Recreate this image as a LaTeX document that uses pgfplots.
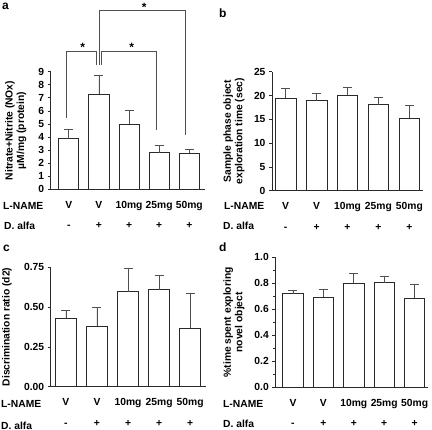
\documentclass[border=0pt]{standalone}
\usepackage{fontspec}
\setmainfont{Liberation Sans}
\usepackage{pgfplots}
\pgfplotsset{compat=1.18}
\definecolor{ln}{HTML}{2A2A2A}
\definecolor{eb}{HTML}{505050}
\pgfplotsset{
  panel/.style={
    scale only axis, anchor=south west, clip=false,
    axis x line*=bottom, axis y line*=left,
    axis line style={ln, line width=0.8pt},
    ybar, bar width=0.67, ymin=0,
    tick align=outside, major tick length=3pt, minor tick length=2pt,
    every tick/.style={ln, line width=0.7pt},
    xtick={0,1,2,3,4}, xticklabels={V,V,10mg,25mg,50mg},
    xtick style={draw=none},
    xticklabel style={anchor=base, yshift=-16pt, font=\fontsize{10.3}{12}\bfseries},
    yticklabel style={font=\fontsize{10.3}{12}\bfseries},
    extra x ticks={0,1,2,3,4},
    extra x tick labels={-,+,+,+,+},
    extra x tick style={xtick style={draw=none}, xticklabel style={yshift=-20.5pt}},
    /pgf/number format/assume math mode=true,
    ylabel style={font=\fontsize{10.3}{11.5}\bfseries, align=center, anchor=center},
  },
  barstyle/.style={fill=white, draw=ln, line width=0.8pt,
    error bars/.cd, y dir=plus, y explicit,
    error bar style={eb, line width=0.8pt},
    error mark options={rotate=90, eb, mark size=4.5pt, line width=0.8pt}},
}
\begin{document}
\begin{tikzpicture}
\useasboundingbox (0pt,0pt) rectangle (432pt,430pt);
% ---------- panel a ----------
\begin{axis}[panel, at={(50.7pt,240.7pt)}, width=154.3pt, height=117.6pt,
  xmin=-0.6, xmax=4.52, ymax=9, ytick={0,1,...,9},
  ylabel={Nitrate+Nitrite (NOx)\\µM/mg (protein)},
  ylabel style={at={(axis description cs:-0.227,0.5)}}]
\addplot[barstyle] coordinates {
  (0,3.88) +- (0,0.68)
  (1,7.30) +- (0,1.40)
  (2,4.97) +- (0,1.03)
  (3,2.80) +- (0,0.58)
  (4,2.77) +- (0,0.28)
};
\draw[eb, line width=0.8pt] (axis cs:1.0,9.51) -- (axis cs:1.0,13.72) -- (axis cs:3.86,13.72) -- (axis cs:3.86,4.18);
\draw[eb, line width=0.8pt] (axis cs:-0.066,5.49) -- (axis cs:-0.066,10.58) -- (axis cs:0.93,10.58) -- (axis cs:0.93,9.51);
\draw[eb, line width=0.8pt] (axis cs:1.09,9.51) -- (axis cs:1.09,10.58) -- (axis cs:2.92,10.58) -- (axis cs:2.92,4.51);
\node[font=\large\bfseries] at (axis cs:0.46,10.85) {*};
\node[font=\large\bfseries] at (axis cs:2.09,10.85) {*};
\node[font=\large\bfseries] at (axis cs:2.5,13.95) {*};
\end{axis}
% ---------- panel b ----------
\begin{axis}[panel, at={(272pt,239.3pt)}, width=151pt, height=119pt,
  xmin=-0.44, xmax=4.44, ymax=25, ytick={0,5,...,25},
  ylabel={Sample phase object\\exploration time (sec)},
  ylabel style={at={(axis description cs:-0.252,0.5)}}]
\addplot[barstyle] coordinates {
  (0,19.4) +- (0,2.0)
  (1,18.9) +- (0,1.6)
  (2,20.1) +- (0,1.7)
  (3,18.1) +- (0,1.5)
  (4,15.2) +- (0,2.8)
};
\end{axis}
% ---------- panel c ----------
\begin{axis}[panel, at={(50.7pt,43.3pt)}, width=155pt, height=119.4pt,
  xmin=-0.49, xmax=4.5, ymax=0.75, ytick={0,0.25,0.5,0.75},
  yticklabel style={/pgf/number format/.cd, fixed, fixed zerofill, precision=2},
  ylabel={Discrimination ratio (d2)},
  ylabel style={at={(axis description cs:-0.282,0.5)}}]
\addplot[barstyle] coordinates {
  (0,0.432) +- (0,0.046)
  (1,0.381) +- (0,0.120)
  (2,0.596) +- (0,0.146)
  (3,0.609) +- (0,0.092)
  (4,0.369) +- (0,0.219)
};
\end{axis}
% ---------- panel d ----------
\begin{axis}[panel, at={(275.3pt,42.7pt)}, width=152.4pt, height=130pt,
  xmin=-0.58, xmax=4.43, ymax=1, ytick={0,0.2,0.4,0.6,0.8,1}, minor y tick num=1,
  yticklabel style={/pgf/number format/.cd, fixed, fixed zerofill, precision=1},
  ylabel={\%time spent exploring\\novel object},
  ylabel style={at={(axis description cs:-0.271,0.5)}}]
\addplot[barstyle] coordinates {
  (0,0.720) +- (0,0.026)
  (1,0.692) +- (0,0.062)
  (2,0.800) +- (0,0.078)
  (3,0.805) +- (0,0.051)
  (4,0.687) +- (0,0.108)
};
\end{axis}
% ---------- row captions and panel letters ----------
\begin{scope}[every node/.style={font=\fontsize{10.3}{12}\bfseries, anchor=base west, inner sep=0pt}]
\node at (3pt,430pt-209.3pt) {L-NAME};
\node at (4pt,430pt-229.6pt) {D. alfa};
\node at (224pt,430pt-209.3pt) {L-NAME};
\node at (223pt,430pt-229.6pt) {D. alfa};
\node at (1pt,430pt-407.6pt) {L-NAME};
\node at (1pt,430pt-429.3pt) {D. alfa};
\node at (223pt,430pt-407.6pt) {L-NAME};
\node at (223pt,430pt-427.6pt) {D. alfa};
\node[font=\large\bfseries] at (2pt,430pt-9.5pt) {a};
\node[font=\large\bfseries] at (219pt,430pt-18pt) {b};
\node[font=\large\bfseries] at (3pt,430pt-252pt) {c};
\node[font=\large\bfseries] at (219pt,430pt-252pt) {d};
\end{scope}
\end{tikzpicture}
\end{document}
